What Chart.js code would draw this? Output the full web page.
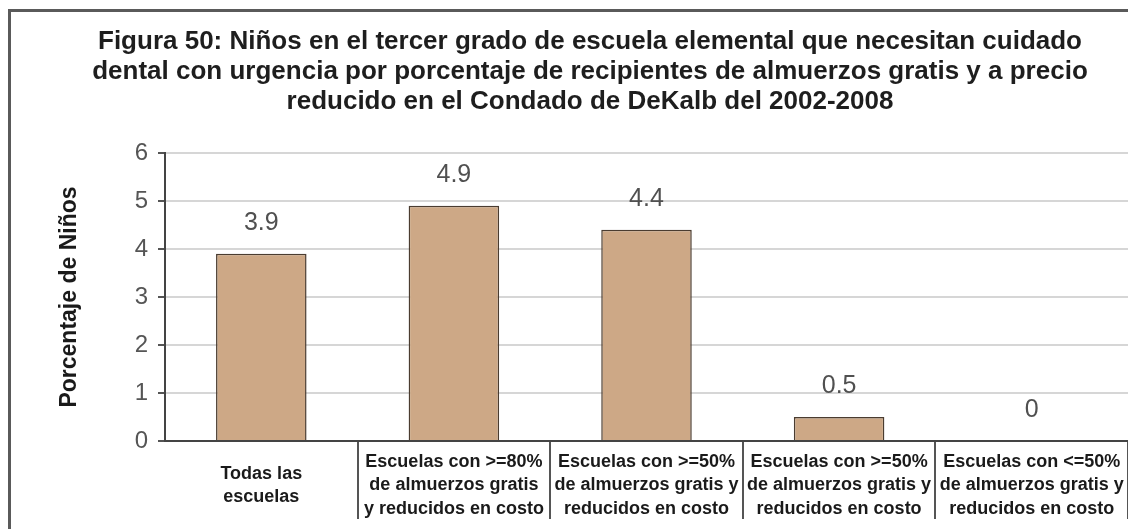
<!DOCTYPE html>
<html>
<head>
<meta charset="utf-8">
<script src="https://cdn.jsdelivr.net/npm/chart.js@4.4.1/dist/chart.umd.min.js"></script>
<style>
  html, body { margin: 0; padding: 0; background: #fff; overflow: hidden; }
  #wrap { position: absolute; left: 0; top: 0; width: 1128px; height: 529px; }
  #frame { position: absolute; left: 8px; top: 9px; width: 1200px; height: 600px;
           border-left: 3px solid #5a5a5a; border-top: 3px solid #5a5a5a; pointer-events: none; }
</style>
</head>
<body>
<div id="wrap"><canvas id="c" width="1128" height="529"></canvas></div>
<div id="frame"></div>
<script>
const titleLines = [
  "Figura 50: Niños en el tercer grado de escuela elemental que necesitan cuidado",
  "dental con urgencia por porcentaje de recipientes de almuerzos gratis y a precio",
  "reducido en el Condado de DeKalb del 2002-2008"
];
const categories = [
  ["Todas las", "escuelas"],
  ["Escuelas con >=80%", "de almuerzos gratis", "y reducidos en costo"],
  ["Escuelas con >=50%", "de almuerzos gratis y", "reducidos en costo"],
  ["Escuelas con >=50%", "de almuerzos gratis y", "reducidos en costo"],
  ["Escuelas con <=50%", "de almuerzos gratis y", "reducidos en costo"]
];
const values = [3.9, 4.9, 4.4, 0.5, 0];
const valueLabels = ["3.9", "4.9", "4.4", "0.5", "0"];
const yTicks = [0, 1, 2, 3, 4, 5, 6];
const yAxisTitle = "Porcentaje de Niños";

const FONT = "'Liberation Sans', Arial, Helvetica, sans-serif";

const valueLabelPlugin = {
  id: 'valueLabels',
  afterDatasetsDraw(chart) {
    const ctx = chart.ctx;
    const meta = chart.getDatasetMeta(0);
    ctx.save();
    ctx.font = "25px " + FONT;
    ctx.fillStyle = "#505050";
    ctx.textAlign = "center";
    ctx.textBaseline = "middle";
    meta.data.forEach((bar, i) => {
      ctx.fillText(valueLabels[i], bar.x, bar.y - 31);
    });
    ctx.restore();
  }
};

new Chart(document.getElementById('c'), {
  type: 'bar',
  data: {
    labels: categories,
    datasets: [{
      data: values,
      backgroundColor: '#cda886',
      borderColor: '#4a3c30',
      borderWidth: 1.5,
      barPercentage: 0.47,
      categoryPercentage: 1.0
    }]
  },
  options: {
    responsive: false,
    animation: false,
    devicePixelRatio: 1,
    layout: { padding: { left: 52, right: 0, top: 0, bottom: 0 } },
    plugins: {
      legend: { display: false },
      tooltip: { enabled: false },
      title: {
        display: true,
        text: titleLines,
        color: '#1e1e1e',
        font: { family: FONT, size: 26, weight: 'bold', lineHeight: 1.154 },
        padding: { top: 27, bottom: 36 }
      }
    },
    scales: {
      x: {
        offset: true,
        grid: {
          offset: true,
          drawOnChartArea: false,
          drawTicks: true,
          tickLength: 78,
          tickColor: (ctx) => (ctx.index === 0 ? 'rgba(0,0,0,0)' : '#555555'),
          lineWidth: 2
        },
        border: { display: true, color: '#444444', width: 2 },
        ticks: {
          color: '#1a1a1a',
          font: { family: FONT, size: 18, weight: 'bold', lineHeight: 1.3 },
          padding: -57,
          crossAlign: 'center',
          maxRotation: 0,
          autoSkip: false
        },
        afterFit(scale) { scale.height = 88; }
      },
      y: {
        min: 0,
        max: 6,
        afterBuildTicks(scale) { scale.ticks = yTicks.map(v => ({ value: v })); },
        grid: {
          color: '#d6d6d6',
          lineWidth: 2,
          tickLength: 7,
          tickColor: '#555555'
        },
        border: { display: true, color: '#444444', width: 2 },
        ticks: {
          color: '#555555',
          font: { family: FONT, size: 24 },
          padding: 10
        },
        title: {
          display: true,
          text: yAxisTitle,
          color: '#1a1a1a',
          font: { family: FONT, size: 23, weight: 'bold', lineHeight: 1.2 },
          padding: { top: 4, bottom: 0 }
        },
        afterFit(scale) { scale.width = 113; }
      }
    }
  },
  plugins: [valueLabelPlugin]
});
</script>
</body>
</html>
